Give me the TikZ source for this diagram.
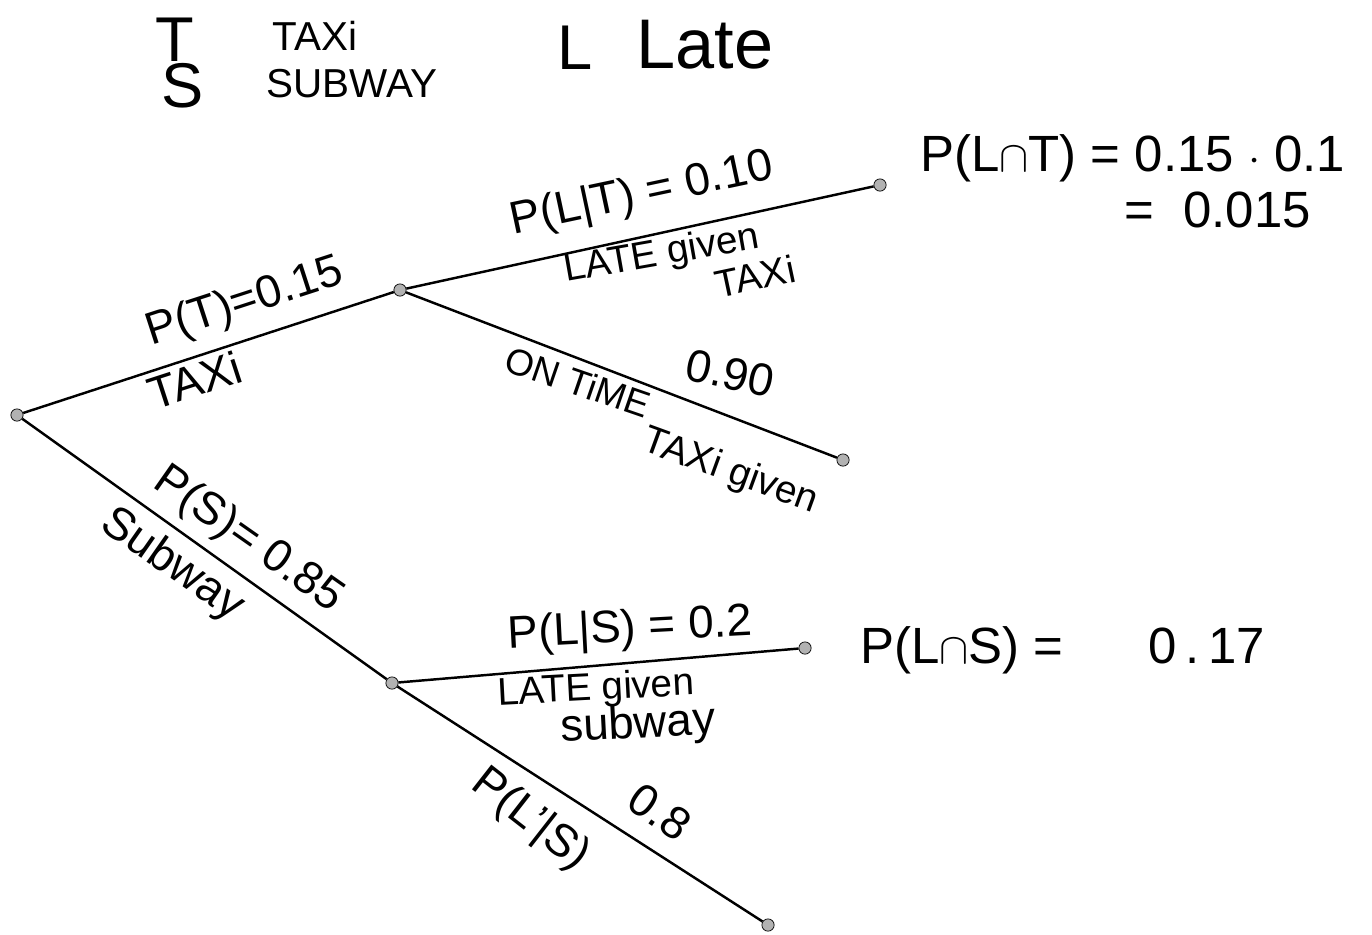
\documentclass[tikz,border=0pt]{standalone}
\usepackage{fontspec}
\setmainfont{Liberation Sans}
\usetikzlibrary{positioning}

\begin{document}
\begin{tikzpicture}[
    x=0.02cm, y=-0.02cm,
    dot/.style={circle, draw, fill=gray!60, inner sep=0pt, minimum size=7pt},
    branch/.style={line width=1.4pt},
    res/.style={font=\fontsize{29}{33}\selectfont, inner sep=1pt},
    lab/.style={font=\fontsize{26}{30}\selectfont, inner sep=1pt},
    note/.style={font=\fontsize{22}{26}\selectfont, inner sep=1pt},
    leg/.style={font=\fontsize{36}{40}\selectfont, inner sep=1pt},
    legtxt/.style={font=\fontsize{23}{27}\selectfont, inner sep=1pt},
]
\useasboundingbox (0,0) rectangle (1372,934);

% legend
\node[leg] (keyT) at (175,40) {T};
\node[legtxt] (keyTaxi) at (315,36) {TAXi};
\node[leg] (keyS) at (183,86) {S};
\node[legtxt] (keySubway) at (352,84) {SUBWAY};
\node[leg] (keyL) at (575,48) {L};
\node[leg, font=\fontsize{40}{44}\selectfont] (keyLate) at (705,45) {Late};

% tree points
\node[dot] (root) at (17,415) {};
\node[dot] (taxi) at (400,290) {};
\node[dot] (ltEnd) at (880,185) {};
\node[dot] (otEnd) at (843,460) {};
\node[dot] (subway) at (392,683) {};
\node[dot] (lsEnd) at (805,648) {};
\node[dot] (nsEnd) at (768,925) {};

\draw[branch] (root) -- (taxi);
\draw[branch] (taxi) -- (ltEnd);
\draw[branch] (taxi) -- (otEnd);
\draw[branch] (root) -- (subway);
\draw[branch] (subway) -- (lsEnd);
\draw[branch] (subway) -- (nsEnd);

% taxi branch
\node[lab, rotate=18] (pT) at (245,303) {P(T)=0.15};
\node[lab, rotate=18] (tT) at (195,380) {TAXi};
\node[lab, rotate=12] (pLT) at (642,195) {P(L|T) = 0.10};
\node[note, rotate=10] (gLT) at (662,255) {LATE given};
\node[note, rotate=12] (gLT2) at (755,276) {TAXi};
\node[lab, rotate=-12] (pOT) at (730,373) {0.90};
\node[note, font=\fontsize{21}{25}\selectfont, rotate=-19] (tOT) at (578,382) {ON TiME};
\node[note, rotate=-20] (gOT) at (730,472) {TAXi given};

% results
\node[res, anchor=west] (rLT) at (918,158) {P(L$\cap$T) = 0.15 $\cdot$ 0.1};
\node[res, anchor=west] (rLT2) at (1122,210) {= \hspace{0.3em}0.015};
\node[res, anchor=west] (rLS) at (858,650) {P(L$\cap$S) = \hspace{1.4em}0\,.\,17};

% subway branch
\node[lab, rotate=-35] (pS) at (248,540) {P(S)= 0.85};
\node[lab, rotate=-35] (tS) at (172,565) {Subway};
\node[lab, rotate=3] (pLS) at (630,630) {P(L|S) = 0.2};
\node[note, rotate=3] (gLS) at (596,690) {LATE given};
\node[lab, rotate=3] (gLS2) at (638,726) {subway};
\node[lab, rotate=-38] (pNS) at (530,820) {P(L'|S)};
\node[lab, rotate=-35] (vNS) at (660,812) {0.8};
\end{tikzpicture}
\end{document}
